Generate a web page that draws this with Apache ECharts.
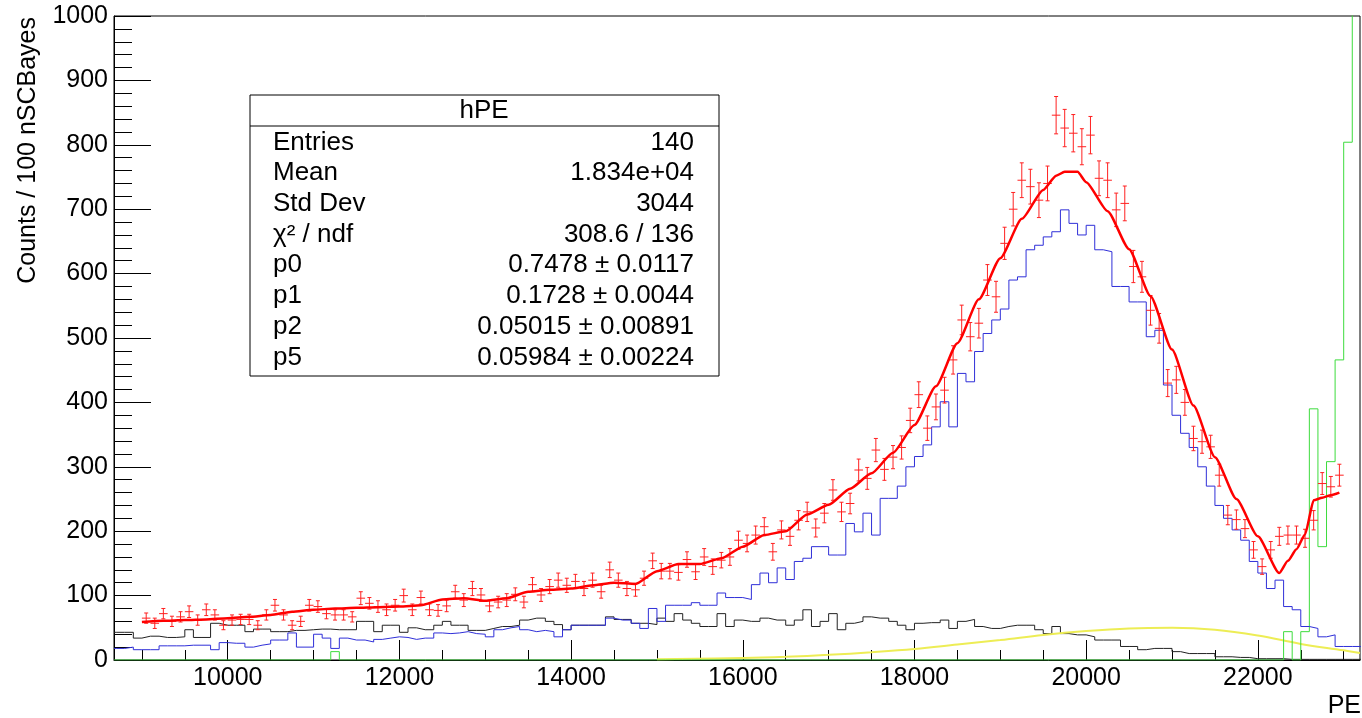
<!DOCTYPE html>
<html>
<head>
<meta charset="utf-8">
<title>hPE</title>
<script src="https://cdn.jsdelivr.net/npm/echarts@6/dist/echarts.min.js"></script>
<style>
  html, body { margin: 0; padding: 0; background: #fff; }
  #chart { width: 1362px; height: 718px; }
</style>
</head>
<body>
<div id="chart"></div>
<script>
// binning of the histograms (PE)
const binWidth = 100
const histStart = 8700   // first edge of the component histograms
const dataStart = 9000   // first edge of hPE points
const xMin = 8675
const xMax = 23190

const xMajorTicks = [10000, 12000, 14000, 16000, 18000, 20000, 22000]
const xMinorTicks = [9000, 9500, 10000, 10500, 11000, 11500, 12000, 12500, 13000, 13500,
    14000, 14500, 15000, 15500, 16000, 16500, 17000, 17500, 18000, 18500,
    19000, 19500, 20000, 20500, 21000, 21500, 22000, 22500, 23000]

// hPE data points (140 bins from 9000)
const dataValues = [
    65, 57, 72, 60, 67, 75, 62, 78, 70, 54,
    62, 63, 63, 54, 70, 85, 70, 54, 60, 85,
    83, 72, 70, 70, 67, 96, 88, 83, 78, 85,
    100, 78, 97, 78, 77, 84, 106, 93, 111, 101,
    84, 90, 93, 102, 90, 117, 101, 114, 124, 116,
    122, 111, 124, 106, 140, 124, 111, 109, 127, 154,
    138, 138, 136, 156, 137, 160, 145, 155, 160, 186,
    181, 194, 207, 168, 202, 192, 217, 230, 205, 228,
    264, 230, 243, 295, 282, 326, 296, 315, 330, 372,
    412, 360, 393, 419, 466, 528, 502, 523, 590, 564,
    647, 700, 745, 735, 714, 740, 846, 826, 818, 797,
    815, 748, 745, 699, 709, 611, 595, 543, 515, 430,
    435, 400, 344, 339, 331, 287, 225, 218, 204, 171,
    145, 171, 192, 194, 194, 189, 217, 274, 269, 287
]
const dataErrors = [
    8, 8, 8, 8, 8, 9, 8, 9, 8, 7,
    8, 8, 8, 7, 8, 9, 8, 7, 8, 9,
    9, 8, 8, 8, 8, 10, 9, 9, 9, 9,
    10, 9, 10, 9, 9, 9, 10, 10, 11, 10,
    9, 9, 10, 10, 9, 11, 10, 11, 11, 11,
    11, 11, 11, 10, 12, 11, 11, 10, 11, 12,
    12, 12, 12, 12, 12, 13, 12, 12, 13, 14,
    13, 14, 14, 13, 14, 14, 15, 15, 14, 15,
    16, 15, 16, 17, 17, 18, 17, 18, 18, 19,
    20, 19, 20, 20, 22, 23, 22, 23, 24, 24,
    25, 26, 27, 27, 27, 27, 29, 29, 29, 28,
    29, 27, 27, 26, 27, 25, 24, 23, 23, 21,
    21, 20, 19, 18, 18, 17, 15, 15, 14, 13,
    12, 13, 14, 14, 14, 14, 15, 17, 16, 17
]

// component histograms (145 bins from 8700)
const blueValues = [
    18, 20, 16, 16, 16, 22, 22, 22, 23, 23,
    23, 16, 27, 26, 26, 20, 23, 25, 31, 31,
    42, 20, 20, 40, 34, 18, 34, 31, 31, 28,
    32, 34, 36, 35, 32, 34, 34, 42, 41, 42,
    44, 41, 40, 36, 47, 50, 52, 47, 44, 46,
    44, 36, 47, 54, 54, 54, 54, 65, 62, 62,
    57, 49, 80, 60, 85, 85, 85, 89, 85, 85,
    104, 97, 97, 94, 117, 135, 120, 143, 125, 153,
    158, 176, 176, 163, 163, 212, 199, 228, 194, 251,
    251, 270, 300, 316, 334, 362, 401, 362, 445, 432,
    479, 507, 528, 545, 590, 595, 637, 644, 657, 665,
    699, 678, 660, 675, 637, 634, 580, 580, 556, 556,
    502, 512, 427, 380, 352, 330, 300, 270, 240, 220,
    202, 186, 153, 135, 111, 124, 83, 78, 52, 49,
    36, 39, 21, 21, 21
]
const blackValues = [
    43, 43, 34, 37, 37, 35, 35, 36, 47, 35,
    35, 57, 54, 54, 54, 44, 48, 48, 44, 44,
    46, 46, 47, 48, 48, 47, 47, 47, 60, 60,
    44, 54, 54, 43, 50, 47, 47, 54, 60, 54,
    54, 46, 46, 49, 52, 52, 54, 62, 65, 65,
    60, 55, 47, 54, 54, 54, 54, 67, 63, 63,
    57, 57, 55, 65, 60, 72, 62, 57, 52, 52,
    72, 52, 62, 60, 60, 65, 62, 62, 54, 62,
    78, 52, 60, 72, 47, 57, 60, 67, 65, 65,
    60, 54, 47, 57, 58, 58, 62, 49, 60, 63,
    52, 49, 49, 52, 54, 54, 54, 47, 41, 52,
    41, 39, 39, 36, 31, 31, 31, 21, 21, 16,
    18, 18, 18, 13, 10, 10, 10, 10, 5, 5,
    4, 4, 2, 2, 2, 2, 1, 1, 1, 1,
    1, 1, 1, 1, 1
]
const greenValues = [
    0, 0, 0, 0, 0, 0, 0, 0, 0, 0,
    0, 0, 0, 0, 0, 0, 0, 0, 0, 0,
    0, 0, 0, 0, 0, 13, 0, 0, 0, 0,
    0, 0, 0, 0, 0, 0, 0, 0, 0, 0,
    0, 0, 0, 0, 0, 0, 0, 0, 0, 0,
    0, 0, 0, 0, 0, 0, 0, 0, 0, 0,
    0, 0, 0, 0, 0, 0, 0, 0, 0, 0,
    0, 0, 0, 0, 0, 0, 0, 0, 0, 0,
    0, 0, 0, 0, 0, 0, 0, 0, 0, 0,
    0, 0, 0, 0, 0, 0, 0, 0, 0, 0,
    0, 0, 0, 0, 0, 0, 0, 0, 0, 0,
    0, 0, 0, 0, 0, 0, 0, 0, 0, 0,
    0, 0, 0, 0, 0, 0, 0, 0, 0, 0,
    0, 0, 0, 0, 0, 0, 44, 0, 44, 390,
    176, 308, 466, 804, 1500
]

// fit curve
const fitX = [9000, 9250, 9500, 9750, 10000, 10250, 10500, 10750, 11000, 11250,
    11500, 11750, 12000, 12250, 12500, 12750, 13000, 13250, 13500, 13750,
    14000, 14250, 14500, 14750, 15000, 15250, 15500, 15750, 16000, 16250,
    16500, 16750, 17000, 17250, 17500, 17750, 18000, 18250, 18500, 18750,
    19000, 19250, 19500, 19650, 19750, 19900, 20000, 20250, 20500, 20750,
    21000, 21250, 21500, 21750, 22000, 22250, 22350, 22450, 22550, 22650,
    22750, 22850, 22950]
const fitY = [59, 61, 62, 63, 65, 67, 70, 75, 78, 80,
    81, 82, 83, 85, 94, 96, 92, 96, 106, 109,
    111, 116, 120, 118, 138, 149, 149, 158, 176, 194,
    200, 226, 241, 266, 290, 322, 365, 425, 492, 560,
    624, 685, 730, 752, 758, 758, 742, 697, 638, 565,
    482, 395, 315, 250, 192, 135, 154, 172, 195, 248,
    252, 256, 260]

// yellow component
const yellowX = [15000, 16000, 16500, 17000, 17500, 18000, 18500, 19000, 19500, 20000,
    20500, 21000, 21500, 22000, 22500, 23000, 23190]
const yellowY = [1, 3, 5, 8, 12, 17, 24, 31, 39, 45, 49, 50, 47, 38, 25, 15, 11]

const statTitle = 'hPE'
const statLabels = ['Entries', 'Mean', 'Std Dev', 'χ² / ndf', 'p0', 'p1', 'p2', 'p5']
const statValues = ['140', '1.834e+04', '3044', '308.6 / 136', '0.7478 ± 0.0117',
    '0.1728 ± 0.0044', '0.05015 ± 0.00891', '0.05984 ± 0.00224']

const font = "'Liberation Sans', Arial, Helvetica, sans-serif"

function stepData(values, start) {
    let pts = [[xMin, values[0]]]
    values.forEach((v, i) => pts.push([start + i * binWidth, v]))
    pts.push([start + values.length * binWidth, values[values.length - 1]])
    return pts
}

function histLine(name, values, color, width, z) {
    return {
        name: name,
        type: 'line',
        step: 'end',
        showSymbol: false,
        symbol: 'none',
        clip: true,
        z: z,
        lineStyle: { color: color, width: width },
        data: stepData(values, histStart)
    }
}

let points = dataValues.map((v, k) => [dataStart + binWidth / 2 + k * binWidth, v, dataErrors[k]])

let statGraphics = [
    { type: 'rect', z: 100, shape: { x: 250, y: 95, width: 469, height: 281 },
      style: { fill: '#fff', stroke: '#000', lineWidth: 1 } },
    { type: 'line', z: 101, shape: { x1: 250, y1: 126, x2: 719, y2: 126 },
      style: { stroke: '#000', lineWidth: 1 } },
    { type: 'text', z: 101, x: 484, y: 111,
      style: { text: statTitle, font: '26px ' + font, fill: '#000',
               align: 'center', verticalAlign: 'middle', textAlign: 'center', textVerticalAlign: 'middle' } }
]
statLabels.forEach((lab, i) => {
    let y = 142.5 + i * 30.7
    statGraphics.push({ type: 'text', z: 101, x: 273, y: y,
        style: { text: lab, font: '26px ' + font, fill: '#000',
                 align: 'left', verticalAlign: 'middle', textAlign: 'left', textVerticalAlign: 'middle' } })
    statGraphics.push({ type: 'text', z: 101, x: 694, y: y,
        style: { text: statValues[i], font: '26px ' + font, fill: '#000',
                 align: 'right', verticalAlign: 'middle', textAlign: 'right', textVerticalAlign: 'middle' } })
})

var chart = echarts.init(document.getElementById('chart'))
var option = {
    animation: false,
    backgroundColor: '#fff',
    grid: {
        left: 114,
        right: 2,
        top: 16,
        bottom: 58,
        show: true,
        borderColor: '#000',
        borderWidth: 1
    },
    xAxis: [{
        type: 'value',
        min: xMin,
        max: xMax,
        axisLine: { show: true, onZero: false, lineStyle: { color: '#000', width: 1 } },
        axisTick: { show: true, inside: true, length: 10, customValues: xMinorTicks,
                    lineStyle: { color: '#000', width: 1 } },
        axisLabel: { customValues: xMajorTicks, margin: 6, fontSize: 25, color: '#000', fontFamily: font,
                     formatter: v => String(v) },
        splitLine: { show: false }
    }, {
        type: 'value',
        min: xMin,
        max: xMax,
        position: 'bottom',
        axisLine: { show: false },
        axisTick: { show: true, inside: true, length: 20, customValues: xMajorTicks,
                    lineStyle: { color: '#000', width: 1 } },
        axisLabel: { show: false },
        splitLine: { show: false }
    }],
    yAxis: {
        type: 'value',
        min: 0,
        max: 1000,
        interval: 100,
        axisLine: { show: true, lineStyle: { color: '#000', width: 1 } },
        axisTick: { show: true, inside: true, length: 37, lineStyle: { color: '#000', width: 1 } },
        minorTick: { show: true, splitNumber: 5, length: 18, lineStyle: { color: '#000', width: 1 } },
        axisLabel: { margin: 6, fontSize: 25, color: '#000', fontFamily: font,
                     formatter: v => String(v) },
        splitLine: { show: false }
    },
    graphic: [
        { type: 'text', x: 28, y: 17, rotation: Math.PI / 2,
          style: { text: 'Counts / 100 nSCBayes', font: '25px ' + font, fill: '#000',
                   align: 'right', verticalAlign: 'middle', textAlign: 'right', textVerticalAlign: 'middle' } },
        { type: 'text', x: 1361, y: 706,
          style: { text: 'PE', font: '25px ' + font, fill: '#000',
                   align: 'right', verticalAlign: 'middle', textAlign: 'right', textVerticalAlign: 'middle' } }
    ].concat(statGraphics),
    series: [
        histLine('black', blackValues, '#222222', 1, 2),
        {
            name: 'yellow',
            type: 'line',
            smooth: 0.4,
            showSymbol: false,
            symbol: 'none',
            z: 2,
            lineStyle: { color: '#eded55', width: 2 },
            data: yellowX.map((x, i) => [x, yellowY[i]])
        },
        histLine('green', greenValues, '#3ddc3d', 1, 3),
        histLine('blue', blueValues, '#2f2fd8', 1, 3),
        {
            name: 'hPE',
            type: 'custom',
            clip: true,
            z: 4,
            encode: { x: 0, y: 1 },
            renderItem: function (params, api) {
                let x = api.value(0)
                let y = api.value(1)
                let e = api.value(2)
                let c = api.coord([x, y])
                let l = api.coord([x - binWidth / 2, y])
                let r = api.coord([x + binWidth / 2, y])
                let t = api.coord([x, y + e])
                let b = api.coord([x, y - e])
                let style = { stroke: '#ff2020', lineWidth: 1 }
                return {
                    type: 'group',
                    children: [
                        { type: 'line', shape: { x1: l[0], y1: c[1], x2: r[0], y2: c[1] }, style: style },
                        { type: 'line', shape: { x1: c[0], y1: t[1], x2: c[0], y2: b[1] }, style: style },
                        { type: 'line', shape: { x1: c[0] - 2, y1: t[1], x2: c[0] + 2, y2: t[1] }, style: style },
                        { type: 'line', shape: { x1: c[0] - 2, y1: b[1], x2: c[0] + 2, y2: b[1] }, style: style }
                    ]
                }
            },
            data: points
        },
        {
            name: 'fit',
            type: 'line',
            smooth: 0.2,
            smoothMonotone: 'x',
            showSymbol: false,
            symbol: 'none',
            z: 5,
            lineStyle: { color: '#ff0000', width: 2.5 },
            data: fitX.map((x, i) => [x, fitY[i]])
        }
    ]
}
chart.setOption(option)
</script>
</body>
</html>
